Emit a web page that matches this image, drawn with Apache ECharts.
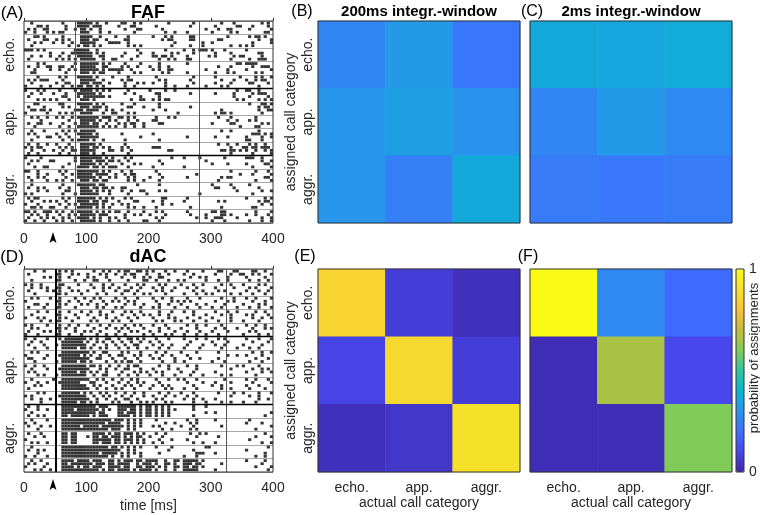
<!DOCTYPE html>
<html>
<head>
<meta charset="utf-8">
<script src="https://cdn.jsdelivr.net/npm/echarts@6/dist/echarts.min.js"></script>
<style>
  html, body { margin: 0; padding: 0; background: #fff; }
  #main { width: 760px; height: 515px; }
</style>
</head>
<body>
<div id="main"></div>
<script>
// ---- categories / ticks ----
const callCats = ['echo.', 'app.', 'aggr.'];
const timeTicks = [0, 100, 200, 300, 400];

// ---- confusion matrices (rows = assigned, cols = actual) ----
const fafWin200 = [[0.26, 0.31, 0.22], [0.30, 0.33, 0.29], [0.30, 0.24, 0.36]];
const fafWin2   = [[0.36, 0.35, 0.37], [0.26, 0.31, 0.27], [0.23, 0.22, 0.23]];
const dacWin200 = [[0.86, 0.07, 0.03], [0.09, 0.87, 0.07], [0.03, 0.05, 0.90]];
const dacWin2   = [[1.00, 0.27, 0.19], [0.02, 0.66, 0.10], [0.02, 0.02, 0.60]];

// reference lines in the rasters (ms)
const fafLines = [82, 282];
const dacLines = [51, 325];

// ---- rasters: 5 units per group, 4 trial rows per unit, one char = 5 ms ----
const fafEcho = [
  "..o....... ..o....ooo oo.o..o... .oo..o.o.. ......o... ....o..... ...o...o.. ......o.o.",
  "....oo.o.. ...o...ooo o.ooo..... o...oo.... ..o....... ...o...... .o......oo ...o....o.",
  ".o.o..oo.. ...o..o.oo .o..o..... ..o...oo.. ....o..... ........o. ..o..oo... ..o......o",
  "o..o...o.o .oo.....oo o...o..o.. .....o.... .....o..o. ..o....... o.....o.o. .......oo.",
  "...oo.o... ..o.....oo oo..o....o ...o...... .o...o.o.. ...oo..... .....o.... ..o.oo.o..",
  ".o....oo.. o.o.o...oo o.oo..o... ..oo...... ....o.oo.. ...oo..... ..oo...... .....o...o",
  "...o.o...o ..o..o..oo ooo....ooo o..o...... ........o. .......o.. o......... ...o.....o",
  "..o....... ....o..o.o o.o.o..... ...o.o.o.. .......o.. ...o...o.. ......o..o .o.o......",
  "ooo.o.o... ......oooo o..o...... ......o... .....o.... .o..o.ooo. o...o..... .o........",
  "........o. ..o..ooooo oo.o.o.... ..o....o.. .o.....o.o ....o..... .o....o... .....oo...",
  "..o..o..o. .o..o..ooo oo..oo.... .o....o... .oo.oo.o.. ..o......o .o.....o.o o.....o...",
  ".o........ o.o.o.o.oo ooo..o..oo ....o..... ...o..o.o. ..oo...... ......o... ..o..ooo..",
  "....o.o... ......o.oo oooo.o.o.. ..o....o.. ...o...... ..o....... ........oo .oooo.....",
  ".o..o..oo. .oo..o..oo ooo..oo... .o.o..o... o..o..o... .......... ..o...o... ...o..ooo.",
  "...o....o. .o..o.o.oo oooo.o.ooo oo..o..... .o.o..oo.. ........o. .....o.... .o.......o",
  "..oo...... ...o....oo o.o.oo.... o....o.o.. ....o.o... ..o....... .o...o.o.. ....o.o...",
  "....o..... .o.o...ooo oo.o....o. ...o...... ..o....... ....o..... .o.......o ....o.o..o",
  ".o.o.ooo.. ..o.....oo ooo..o.... .o.oo..... ...o.o.... ...o...... ...o...o.. .o..o.oo..",
  "..o....... o..oo...oo o.ooo..o.. ..o...o.o. .o...o.... ....o..... .o....o... ..oo....o.",
  "o....o..o. ..o..o.oo. oo.o.o.... ..o..o.... .....o..o. ..o.....o. ...o.o.... .....o...."
];
const fafApp = [
  "o...o.o... .o....o.oo oo.o.o.o.. ...o...... o....o..o. .......... ........o. .oo..o....",
  "..o..o...o ...o...ooo ooo.o..... ..o..o.... ..oo...... ...o...... .o.....o.. ...o.ooo..",
  ".o........ ..oo...o.o oooooo.o.. .......o.. ...o...... .......... .......o.. ..o.....o.",
  "....o.o.o. o...o...oo o.o....... ....o..oo. .o.o.oo... .......... ........o. o....o.o.o",
  "...oo..... .oo....ooo oo.o.o.... .o...o.... ...o...... .......... .......... ..o...oo.o",
  ".o....o... ..o.o...oo o.ooo.o... ...oo...o. ...o...... ...o...... .......... .....o.oo.",
  "..oo.oo.o. ......ooo. oooo..o.o. .o........ .o...o.... .......... ...o...... .....o..oo",
  "o......o.. .o.o.o..oo oo...o..oo ...o.o.... .........o .......... .o.oo.o... ......o...",
  "..o.o..o.. o.o..o.ooo oooo.ooo.. oo.o.o.... ..o...o.o. .......... ..o...o... ....o.....",
  ".....o.... ....o...oo ooo.o..o.o ...o..o... .oo....... .......... .....o..o. ..o.o.....",
  ".o..oo..o. ..o...o.oo o.oo..o... o.o.oo..o. ...oo..... .......... o.....oo.. ......o.o.",
  "...o...... .o..o..ooo oooo.o.o.o ..o..o..o. .......... .......... .........o ....oo....",
  "..o...o... ..o.o.o.oo ooo....... .......... .......... .......... ...o..o... .....o....",
  ".o.o...... o..o...ooo oo.o...... .o........ .o........ .......... .......... ...ooo.o.o",
  "....o..oo. .o..o...oo oooo...... .......o.. .......... ..o....... .o...o.... .o....o..o",
  "..o....... ..o..o.ooo o.o..o.... ..o....... ...o...... .......... .......... .oo...o...",
  ".o..o..o.. o...o...oo ooo.o..... ..o....... .......... .......... ..o..o..o. ..o.o..o..",
  "o.o.oo.... .o.o.o..oo o.oo.o.o.. .o.o...... .ooo...... .......... ......o... oo.oo.ooo.",
  "..o...o..o ..o..oo.oo ooo....oo. .o..o..... ......oo.. .......... ...oo.oo.o .o..o..o.o",
  ".o..o..... .o..o...oo o.o..o.... ...o...... .......... .......... ......o... ...o.....o"
];
const fafAggr = [
  "o....o.... ......o.oo ooooo.o.o. ..o.o..... .......o.. .o....o... ....o..... .ooo..o...",
  "..o.o...oo ......o.oo oo.ooo.oo. o..o...... ...o...... ........o. .......... ......o..o",
  ".o........ ....o...oo ooo.o.o... .o...o.o.. ....o..... .......... o....o.... .o.....oo.",
  "...o..oo.. ..o....ooo o.oo.o.ooo ...o...... .o........ .o........ .......... ...o.....o",
  "oo..o..... .o.o...ooo oooo.o.o.. .o..o..... ..o....... .......... ......o... ....o...o.",
  "....o..o.. ..o..o.ooo oo.oooo..o ..o.oo.... ...o...... .....o.... .........o ...o.....o",
  ".o..o.o... ...o...ooo ooo.o..o.o ...o.o.... o...o..... ..o....... ...o.oo... .......oo.",
  "..o....o.. o.o..o..oo o.oo.oo... ...o.o..o. ...o...... .......... ..o....... ....o....o",
  "..o....... ..o....ooo ooo.oo.... ......o... ...o...... .......... o.....o... ..o.......",
  ".o..o.o... .o..o...oo o.oo.oo.o. .oo....... .......... .......... .oo....o.. .....o....",
  "....o..o.. ...oo...oo oo.o.o.o.. .o..o..oo. ...o.o.... .......... ........o. ......o..o",
  "o.o....... ..o...o.oo oooo...o.. ...o.....o .......... ......o... .......... ...o......",
  ".o.oo..... ..o.o..ooo ooo.o.o.o. ..o.o..... ....oo.... ..o....... .......... .o.....o.o",
  "..o...o.o. o..o...ooo o.oo.oo... o....oo... .o..o..... .o........ ..o.o..... .....o.oo.",
  "o...o..... .o..o.o.oo oooo.o..o. .o.o...... ....o..o.. .......... .......... ......o..o",
  "..oo.o..oo ...o...ooo oo.o.o.o.. ...o.o..o. ..o....... ...o...... ...o...... ...oo.....",
  "oo.o..ooo. o.o..o.ooo oo.o.o.o.o o..o....o. ..o.o..... ..o....... oo.oo..... ....o....o",
  "..o.o..o.. .o..o.o.oo ooo.ooo... ..o..o.o.. o....o.... ...o....o. ...oo.o... .o..o...o.",
  ".o...o.o.o ..o.o..ooo o.o.o..o.o ..o....... ..o.o..... .....o..o. .ooo....o. ......o..o",
  "o..o..o... o.o..o..oo ooo.o..o.. o..o....oo ...o...... .......... o...o..... ..o...o..o"
];
const dacEcho = [
  "...o..o... .o.o.o.... ..o..o.o.. o.oo..oo.o .o...o..o. ..o....o.. ..oo...oo. ...oo..o..",
  ".o........ oo...o.o.. o...o.o..o ..o.oo...o ...o..o... .o..o..... .o....o..o o..o.o...o",
  "......o.o. .o..o..... o.o...o... .o...o..o. o..oo..... ...o..o.o. .....o.... .o.....o..",
  "..o....... oo....o..o ..oo...o.. ...o....oo ..o...o..o .o......o. ..o..o.... ..o..o..o.",
  "o.o..o.... .oo....o.. .o...o..o. ..o...o.o. ...o.o.... o...o..o.. ...o..o... o....o.o..",
  "..o..o.o.. oo..o..... ..o..o.o.. o...o..o.. .o..o...o. ..o..o.... .o.....o.. ..o.o....o",
  ".o.....o.o .o...o.o.. o....o...o ..oo..o... ..o.o..o.. ....o..o.. ..o.o..... .o...o..o.",
  "...o...... oo.o....o. ...o..o... .o...o..o. o....o.... .o...o..o. o.....o..o ...o...o..",
  "..o.o...o. .o....o..o ..o.o....o ..o...o... .o..o..o.. ..o...o... ...o...o.. .o..o....o",
  "o......... oo..o..o.. .o...o..o. o..o.o.... ..o....o.o .o.o...... .o...o.o.. ...o...o..",
  "...oo..o.. .o.o....o. o..o..o... ..o..o..o. ...o..o... o....o..o. ....o..... o....o.o..",
  ".o....o... oo....o... ...o.o...o .o.....o.. .o.o....o. ..o...o... o..o....o. ..o..o...o",
  "....o..o.. .o..o...o. .o..o...o. ..o.o..o.. ...o...o.. .o..o..... .o...o..o. ....o..o..",
  "..o....... oo....o... o...o.o... .o...o..o. o..o..o... ....o...o. ...o..o... .o.o....o.",
  "o...o.o... .o.o...o.. ..o...o..o ...o..o... .o....o.o. ..o...o... o.....o... ...o..o..o",
  ".....o..o. oo...o.... .o.o....o. o...o..... ..o.o...o. o...o...o. ..o...o... o....o....",
  "o.o....o.. .o..o..o.. o...o..o.. ..o..o.o.. .o...o.... ..o..o..o. ...o...... .o..o..o..",
  "..o.o..... oo.o..o... ..o...o..o .o.o....o. ...o..o... o....o.... .o..o...o. ...o...o.o",
  ".o....o.o. .o....o..o .o..o..... o...o.o... o..o....o. ..o...o... o....o.... ..o.o.....",
  "o...o..... oo..o...o. ...o..o..o ..o.....o. .o...o.o.. .o...o..o. ..o....... o....o..o."
];
const dacApp = [
  "o..o...o.. .o.ooooooo .o.o..oo.. o..oo.o.o. ..o...o... .o...o..o. ..o.o..... .o...o...o",
  "..o..o.... ..ooooooo. o..o.o..o. .o..o..o.. o..o...... ...o...... o....o.... ...o....o.",
  ".o....o... o.oooooooo ..o...o..o ..o..oo... .o..o..o.. ..o....o.. .o..o..... o.....o...",
  "...o...o.. ..ooooo.oo .o..o.o... o..o..o..o ...o..o... .o....o... ...o....o. ..o..o....",
  "..o.o..... ..oooooooo o.o..oo... .o.o...o.. ..o..o.... o....o.... ..o....... ...o..o..o",
  "o......o.. .ooooooo.o .o..o..o.. oo...o.o.. o...o..o.. ..o....... .....o..o. .o....o...",
  ".oo...o... ..oooooooo o..oo...o. ..o...o... .o.o....o. ...o..o... ..o....... ....o...o.",
  "...o...... o.ooooo.oo .o....o..o .o.oo..o.. ....o...o. .o........ o...o..... ..o...o...",
  "o..o..o... ..oooooooo .oo.o..o.. o..o.oo... ...o..o... ..o..o.... ...o....o. o....o....",
  "..o....o.. .ooooooooo o...o.o..o ..oo...o.. .o....o..o .....o.... ......o... ...o..o.o.",
  ".o.o...... ..ooooo.oo .o.o..o... .o...o.o.o ..o.o..... o...o..... .o........ .o....o..o",
  "....o.o... o.oooooooo ..o..oo... o..o..o... o...o...o. ...o...o.. ...o..o... ....o.....",
  "..o......o ..oooooooo o..o.o..o. .o..o.o... ..o...o..o .o...o.... ....o..... .o..o...o.",
  "o...o..o.. .ooooooo.. .oo...o... o..o..o.o. ...o...... ..o....o.. .o....o... ...o.....o",
  "...o.o.... ..oooooooo ..o.o...o. ..o.o..o.. .o..o.o... ....o..... o..o...... .o...o....",
  ".o........ ..oooooooo o..o..o..o .o...o.... o....o.o.. .o...o.... ...o..o... ..o....o..",
  "....o.o... ..oooooo.o .o..o.o..o ..o..o..o. ...o..o... o...o..... ..o....o.. o....o...o",
  "o.o....... .ooooooooo ..o..o.o.. .o..o...o. .o...o..o. ..o..o.... ......o... ..o..o....",
  "..o..o..o. ..oooooooo o..o..o..o ..oo..o... ..o.o..... .o..o..o.. .o........ .....o..o.",
  ".....o.... ..ooooo.oo .o.o....o. o...o..o.o .o...o.o.. ....o...o. ...o..o... o...o....."
];
const dacAggr = [
  ".o..o..... ..oooooooo ooo.ooo... oooooo.o.o o.o.o.o... ....o...o. .......... ..........",
  "o...o..o.. ..oooo.ooo oooo.o.o.. ooo.oo.o.o o.o.o.o.o. ....o..... .......... ..........",
  "..o....... ..oooooooo ooo.oo.... oo.ooo.o.o o.o.o.o... ........o. .o........ .........o",
  ".o..o.o... ..oo.ooooo o.o.ooo... oooo.o.o.o o.o.o.o... ....o..... .......... .......o..",
  "..o....o.. ..oooooooo oooooooo.o oo.o.o.o.. ..o....... ..o..o.... .o........ ..o.......",
  "o..o...... ..oooooooo oooooo.ooo o..o.o.o.. .....o..o. ...o.o.... .......... .o....o...",
  ".o...o..o. ..oooooo.o oooo.ooooo oo.o.o.o.. .o.o...... o...o..... ...o...... .........o",
  "....o..... ..oooooooo ooooooo.oo o..o.o.... ....o..o.. ...o.o.... .......... ....o.....",
  ".o...o.... ..oo.oo... ..oooo.o.o o.ooo.o.o. ..o..o.... ...o..o.o. .......... .......o..",
  "...o..o... ..oo.oo... o.oo.oo.oo o.o.o.oo.. o...o..... .....o.... ..o....... ....o....o",
  "o......... ..oo.oo... ..oooooo.o o.ooo.o.o. ...o...o.. ..o....... .......... ..o.......",
  "..o.o..o.. ..oo.oo... ..oo.ooo.o o.o.o.o.o. .o..o..... ....o..o.. .o........ ......o..o",
  "..o....... ..oooooooo ooooooo.oo .o.o.o.o.. ..o....o.. ........oo .......... ........o.",
  ".o..o.o... ..oooooooo oooooooooo o..o.o.... ......o... ....o..... .......... .o........",
  "....o..... ..oooooooo oooo.ooooo .o.o.o.o.. ...o...... .....ooo.. .o........ .......o..",
  "o..o...o.. ..oooooooo ooooooo.o. .o.o...o.. .......... .o...o.... .......... ....o..o..",
  "..o..o.... ..oooo.ooo o.ooo..oo. o.ooo.oo.o ooo..o..oo .ooooo.o.. .......... .o.....o..",
  ".o.o...o.. ..oo.ooooo oo.ooo.oo. oooo..o.oo o.o..oo.o. .ooo.oo... ...o...... ......o...",
  "o.....o... ..oooo.o.o o.ooo..ooo o.oo..oo.o oo.o.o..oo .oo.oo.o.. .......... ....o....o",
  "...o.o..o. ..oooooooo oooo.o.oo. oooo.o.ooo o.o..o..o. .ooooo.... .o........ ........o."
];

const BIN_MS = 5;
function rasterPoints(groups) {
  const pts = [];
  groups.forEach((lines, g) => {
    lines.forEach((line, k) => {
      const unit = g * 5 + Math.floor(k / 4);
      const y = unit + 0.16 + (k % 4) * 0.225;
      line.replace(/ /g, '').split('').forEach((c, i) => {
        if (c === 'o') pts.push([i * BIN_MS + BIN_MS / 2, y]);
      });
    });
  });
  return pts;
}
function cells(m) {
  const d = [];
  m.forEach((row, r) => row.forEach((v, c) => d.push([c, r, v])));
  return d;
}

const parula = ['#3e26a8', '#4747eb', '#3e6fff', '#2796eb', '#08b5d0', '#31c69f',
                '#81cc59', '#c4bb39', '#fcc23a', '#f5e12a', '#f9fb15'];
const FONT = 'Liberation Sans, Arial, sans-serif';
const TXT = '#262626';

const chart = echarts.init(document.getElementById('main'));

const gridBase = { show: true, borderColor: '#333', borderWidth: 1, z: 10, containLabel: false };
const grids = [
  Object.assign({ left: 24, top: 21, width: 249, height: 202 }, gridBase),
  Object.assign({ left: 24, top: 269, width: 249, height: 203 }, gridBase),
  Object.assign({ left: 318, top: 21, width: 202, height: 202 }, gridBase),
  Object.assign({ left: 530, top: 21, width: 202, height: 202 }, gridBase),
  Object.assign({ left: 318, top: 269, width: 202, height: 203 }, gridBase),
  Object.assign({ left: 530, top: 269, width: 202, height: 203 }, gridBase),
  Object.assign({ left: 736, top: 269, width: 8, height: 203 }, gridBase)
];

function timeAxis(gi, withName) {
  return {
    type: 'value', gridIndex: gi, min: 0, max: 400, interval: 100,
    axisLine: { show: false }, splitLine: { show: false },
    axisTick: { inside: true, length: 3, lineStyle: { color: '#333' } },
    axisLabel: { fontFamily: FONT, fontSize: 14, color: TXT, margin: 9,
                 formatter: v => timeTicks.indexOf(v) >= 0 ? String(v) : '' },
    name: withName ? 'time [ms]' : '', nameLocation: 'middle', nameGap: 27,
    nameTextStyle: { fontFamily: FONT, fontSize: 14, color: TXT }
  };
}
function catXAxis(gi, showLabels) {
  return {
    type: 'category', gridIndex: gi, data: callCats,
    axisLine: { show: false },
    axisTick: { inside: true, length: 3, alignWithLabel: true, lineStyle: { color: '#333' } },
    axisLabel: { show: showLabels, fontFamily: FONT, fontSize: 14, color: TXT, margin: 9 },
    name: showLabels ? 'actual call category' : '', nameLocation: 'middle', nameGap: 24,
    nameTextStyle: { fontFamily: FONT, fontSize: 14, color: TXT }
  };
}
function catYAxis(gi, showLabels) {
  return {
    type: 'category', gridIndex: gi, data: callCats, inverse: true,
    axisLine: { show: false },
    axisTick: { inside: true, length: 3, alignWithLabel: true, lineStyle: { color: '#333' } },
    axisLabel: { show: showLabels, rotate: 90, fontFamily: FONT, fontSize: 14, color: TXT, margin: 3 },
    name: showLabels ? 'assigned call category' : '', nameLocation: 'middle', nameGap: 20,
    nameTextStyle: { fontFamily: FONT, fontSize: 14, color: TXT }
  };
}
function unitAxis(gi) {
  return {
    type: 'value', gridIndex: gi, min: 0, max: 15, interval: 1, inverse: true,
    axisLine: { show: false }, axisTick: { show: false }, axisLabel: { show: false },
    splitLine: { show: true, lineStyle: { color: '#a8a8a8', width: 1 } }
  };
}
function groupAxis(gi) {
  return {
    type: 'category', gridIndex: gi, data: callCats, inverse: true, position: 'left',
    axisLine: { show: false }, axisTick: { show: false },
    axisLabel: { rotate: 90, fontFamily: FONT, fontSize: 14, color: TXT, margin: 7 }
  };
}

function rasterSeries(xi, yi, groups, vlines, firstLineStyle) {
  const ml = vlines.map((v, i) => ({
    xAxis: v,
    lineStyle: i === 0 ? firstLineStyle : { color: '#555', width: 1, type: 'solid' }
  }));
  ml.push({ yAxis: 5, lineStyle: { color: '#000', width: 1.3, type: 'solid' } });
  ml.push({ yAxis: 10, lineStyle: { color: '#000', width: 1.3, type: 'solid' } });
  return {
    type: 'scatter', xAxisIndex: xi, yAxisIndex: yi,
    symbol: 'rect', symbolSize: [3.2, 2.8], silent: true,
    itemStyle: { color: '#000' },
    data: rasterPoints(groups),
    markLine: { silent: true, symbol: 'none', label: { show: false }, data: ml, animation: false },
    animation: false
  };
}
function heatSeries(xi, yi, m) {
  return {
    type: 'heatmap', xAxisIndex: xi, yAxisIndex: yi, data: cells(m),
    itemStyle: { borderWidth: 0 }, silent: true, animation: false
  };
}

const option = {
  animation: false,
  grid: grids,
  xAxis: [
    timeAxis(0, false), timeAxis(1, true),
    catXAxis(2, false), catXAxis(3, false), catXAxis(4, true), catXAxis(5, true),
    { type: 'category', gridIndex: 6, data: [''], show: false }
  ],
  yAxis: [
    unitAxis(0), groupAxis(0), unitAxis(1), groupAxis(1),
    catYAxis(2, true), catYAxis(3, false), catYAxis(4, true), catYAxis(5, false),
    {
      type: 'value', gridIndex: 6, min: 0, max: 1, interval: 1, position: 'right',
      axisLine: { show: false }, splitLine: { show: false },
      axisTick: { show: false },
      axisLabel: { fontFamily: FONT, fontSize: 14, color: TXT, margin: 5 }
    }
  ],
  visualMap: {
    type: 'continuous', min: 0, max: 1, seriesIndex: [2, 3, 4, 5],
    orient: 'vertical', left: 736, top: 269, itemWidth: 8, itemHeight: 203,
    padding: 0, calculable: false, text: null, showLabel: false,
    inRange: { color: parula }
  },
  series: [
    rasterSeries(0, 0, [fafEcho, fafApp, fafAggr], fafLines, { color: '#555', width: 1, type: 'solid' }),
    rasterSeries(1, 2, [dacEcho, dacApp, dacAggr], dacLines, { color: '#000', width: 2, type: 'solid' }),
    heatSeries(2, 4, fafWin200),
    heatSeries(3, 5, fafWin2),
    heatSeries(4, 6, dacWin200),
    heatSeries(5, 7, dacWin2)
  ],
  graphic: [
    { type: 'text', x: 12, y: 13, style: { text: '(A)', font: '17px ' + FONT, fill: '#000', align: 'center', verticalAlign: 'middle' } },
    { type: 'text', x: 148, y: 13, style: { text: 'FAF', font: 'bold 18px ' + FONT, fill: '#000', align: 'center', verticalAlign: 'middle' } },
    { type: 'text', x: 12, y: 257, style: { text: '(D)', font: '17px ' + FONT, fill: '#000', align: 'center', verticalAlign: 'middle' } },
    { type: 'text', x: 148, y: 257, style: { text: 'dAC', font: 'bold 18px ' + FONT, fill: '#000', align: 'center', verticalAlign: 'middle' } },
    { type: 'text', x: 302, y: 12, style: { text: '(B)', font: '16px ' + FONT, fill: '#000', align: 'center', verticalAlign: 'middle' } },
    { type: 'text', x: 419, y: 12, style: { text: '200ms integr.-window', font: 'bold 15px ' + FONT, fill: '#000', align: 'center', verticalAlign: 'middle' } },
    { type: 'text', x: 532, y: 12, style: { text: '(C)', font: '16px ' + FONT, fill: '#000', align: 'center', verticalAlign: 'middle' } },
    { type: 'text', x: 631, y: 12, style: { text: '2ms integr.-window', font: 'bold 15px ' + FONT, fill: '#000', align: 'center', verticalAlign: 'middle' } },
    { type: 'text', x: 305, y: 257, style: { text: '(E)', font: '16px ' + FONT, fill: '#000', align: 'center', verticalAlign: 'middle' } },
    { type: 'text', x: 528, y: 257, style: { text: '(F)', font: '16px ' + FONT, fill: '#000', align: 'center', verticalAlign: 'middle' } },
    { type: 'text', x: 754, y: 358, rotation: Math.PI / 2,
      style: { text: 'probability of assignments', font: '13px ' + FONT, fill: TXT, align: 'center', verticalAlign: 'middle' } },
    { type: 'polygon', x: 53, y: 238, shape: { points: [[0, -6], [3.5, 5], [0, 2.5], [-3.5, 5]] }, style: { fill: '#000' } },
    { type: 'polygon', x: 53, y: 485, shape: { points: [[0, -6], [3.5, 5], [0, 2.5], [-3.5, 5]] }, style: { fill: '#000' } }
  ]
};
chart.setOption(option);
</script>
</body>
</html>
